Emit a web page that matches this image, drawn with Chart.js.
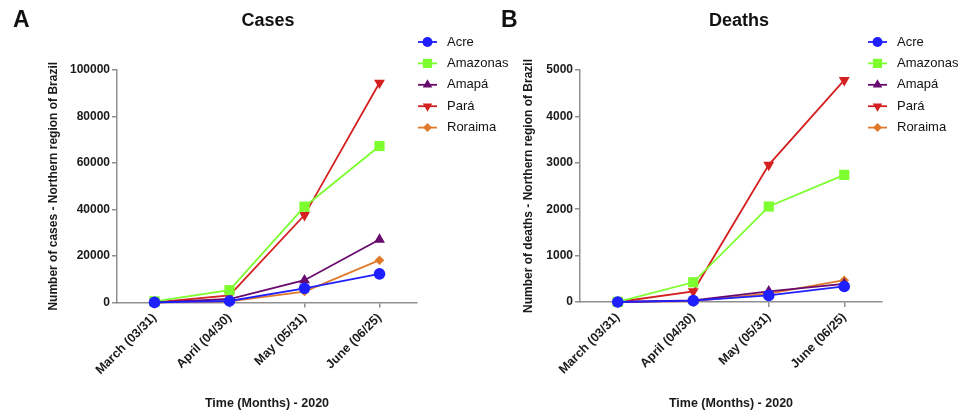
<!DOCTYPE html>
<html>
<head>
<meta charset="utf-8">
<script src="https://cdn.jsdelivr.net/npm/chart.js@4"></script>
<style>
  html, body { margin: 0; padding: 0; background: #fff; }
  #wrap { position: relative; width: 958px; height: 415px; }
  #wrap canvas { position: absolute; left: 0; top: 0; }
</style>
</head>
<body>
<div id="wrap">
  <canvas id="casesChart" width="958" height="415"></canvas>
  <canvas id="deathsChart" width="958" height="415"></canvas>
</div>
<script>
// x-axis categories and legend names
const months = ["March (03/31)", "April (04/30)", "May (05/31)", "June (06/25)"];
const states = ["Acre", "Amazonas", "Amapá", "Pará", "Roraima"];

// Cases per state
const acreCases     = [40, 650, 6100, 12300];
const amazonasCases = [500, 5300, 41200, 67300];
const amapaCases    = [10, 1500, 9600, 27100];
const paraCases     = [50, 3100, 37600, 94500];
const roraimaCases  = [20, 500, 4700, 18200];

// Deaths per state
const acreDeaths     = [0, 30, 142, 335];
const amazonasDeaths = [3, 425, 2058, 2740];
const amapaDeaths    = [0, 35, 230, 390];
const paraDeaths     = [0, 230, 2955, 4780];
const roraimaDeaths  = [0, 20, 180, 470];

// y-axis tick range
const casesTicks = { max: 100000, step: 20000 };
const deathsTicks = { max: 5000, step: 1000 };

// marker styling
const colors = ['#1f1fff', '#7dff2f', '#680a6e', '#d42020', '#e07a2a'];
const pointStyles = ['circle', 'rect', 'triangle', 'triangle', 'rectRot'];
const rotations = [0, 0, 0, 180, 0];
const radii = [5.8, 7.2, 6.3, 6.3, 4.8];
const legendRadii = [5, 6.5, 5.5, 5.5, 4.5];

const axisColor = '#8f8f8f';
const fontFamily = '"Liberation Sans", Arial, Helvetica, sans-serif';
Chart.defaults.font.family = fontFamily;
Chart.defaults.color = '#1a1a1a';

// letter, title and legend drawn onto the canvas
const panelText = {
  id: 'panelText',
  afterDraw(chart, args, opts) {
    const ctx = chart.ctx;
    ctx.save();
    ctx.textBaseline = 'middle';
    ctx.fillStyle = '#111';
    ctx.textAlign = 'left';
    ctx.font = 'bold 23px ' + fontFamily;
    ctx.fillText(opts.letter, opts.letterX, 21);
    ctx.textAlign = 'center';
    ctx.font = 'bold 18px ' + fontFamily;
    ctx.fillText(opts.title, opts.titleX, 21);

    ctx.textAlign = 'left';
    ctx.font = '13px ' + fontFamily;
    chart.data.datasets.forEach((ds, i) => {
      const y = opts.legendY + i * 21.4;
      const x0 = opts.legendX;
      ctx.strokeStyle = ds.borderColor;
      ctx.lineWidth = 1.8;
      ctx.beginPath();
      ctx.moveTo(x0, y);
      ctx.lineTo(x0 + 19, y);
      ctx.stroke();
      ctx.fillStyle = ds.borderColor;
      Chart.helpers.drawPoint(ctx, {
        pointStyle: ds.pointStyle,
        rotation: ds.pointRotation,
        radius: legendRadii[i],
        borderWidth: 0
      }, x0 + 9.5, y);
      ctx.fillStyle = '#111';
      ctx.fillText(ds.label, x0 + 29, y);
    });
    ctx.restore();
  }
};

function buildDatasets(series) {
  return series.map((data, i) => ({
    label: states[i],
    data: data,
    borderColor: colors[i],
    backgroundColor: colors[i],
    pointBackgroundColor: colors[i],
    pointBorderColor: colors[i],
    pointBorderWidth: 0,
    borderWidth: 1.8,
    pointStyle: pointStyles[i],
    pointRotation: rotations[i],
    pointRadius: radii[i],
    tension: 0,
    clip: false
  }));
}

function makeChart(id, series, ticks, cfg) {
  const ctx = document.getElementById(id).getContext('2d');
  return new Chart(ctx, {
    type: 'line',
    data: { labels: months, datasets: buildDatasets(series) },
    plugins: [panelText],
    options: {
      responsive: false,
      animation: false,
      devicePixelRatio: 1,
      events: [],
      layout: { padding: { left: cfg.padLeft, right: cfg.padRight, top: 70, bottom: 0 } },
      plugins: {
        legend: { display: false },
        tooltip: { enabled: false },
        panelText: cfg.text
      },
      scales: {
        x: {
          type: 'category',
          offset: true,
          afterFit: s => { s.height = cfg.xHeight; },
          grid: { drawOnChartArea: false, offset: false, tickLength: 5, color: axisColor, lineWidth: 1.5 },
          border: { color: axisColor, width: 1.5 },
          ticks: {
            minRotation: 45, maxRotation: 45, padding: 3,
            font: { size: 12.5, weight: 'bold' }, color: '#1a1a1a'
          },
          title: {
            display: true, text: 'Time (Months) - 2020',
            font: { size: 12.5, weight: 'bold' }, color: '#1a1a1a',
            padding: { top: 0, bottom: 3.5 }
          }
        },
        y: {
          min: 0, max: ticks.max,
          afterFit: s => { s.width = cfg.yWidth; },
          grid: { drawOnChartArea: false, tickLength: 5, color: axisColor, lineWidth: 1.5 },
          border: { color: axisColor, width: 1.5 },
          ticks: {
            stepSize: ticks.step, padding: 2,
            font: { size: 12, weight: 'bold' }, color: '#1a1a1a',
            callback: v => String(v)
          },
          title: {
            display: true, text: cfg.yTitle,
            font: { size: 12, weight: 'bold' }, color: '#1a1a1a',
            padding: { top: cfg.yTitlePad, bottom: 0 }
          }
        }
      }
    }
  });
}

makeChart('casesChart',
  [acreCases, amazonasCases, amapaCases, paraCases, roraimaCases],
  casesTicks,
  {
    padLeft: 0, padRight: 958 - 417, yWidth: 117, xHeight: 112.5, yTitlePad: 46,
    yTitle: 'Number of cases - Northern region of Brazil',
    text: { letter: 'A', letterX: 13, title: 'Cases', titleX: 268, legendX: 418, legendY: 42 }
  });

makeChart('deathsChart',
  [acreDeaths, amazonasDeaths, amapaDeaths, paraDeaths, roraimaDeaths],
  deathsTicks,
  {
    padLeft: 480, padRight: 958 - 882, yWidth: 100, xHeight: 113, yTitlePad: 41,
    yTitle: 'Number of deaths - Northern region of Brazil',
    text: { letter: 'B', letterX: 501, title: 'Deaths', titleX: 739, legendX: 868, legendY: 42 }
  });
</script>
</body>
</html>
